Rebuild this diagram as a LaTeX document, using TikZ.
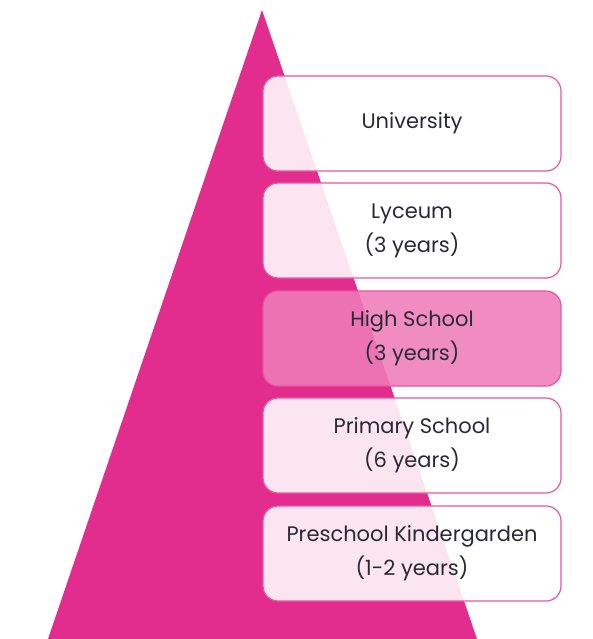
\documentclass[tikz,border=0pt]{standalone}
\usepackage{fontspec}
\setmainfont{Poppins}
\definecolor{pyr}{HTML}{E22D8F}
\definecolor{edge}{HTML}{E8559F}
\definecolor{mark}{HTML}{EE7CB9}
\definecolor{ink}{HTML}{2A2A36}
\tikzset{level/.style={draw=edge, line width=1.2pt, rounded corners=15pt,
  fill=white, fill opacity=0.88, text opacity=1, text=ink,
  minimum width=298pt, minimum height=95pt, align=center,
  font=\fontsize{21}{34}\selectfont}}
\begin{document}
\begin{tikzpicture}[x=1pt,y=-1pt]
\useasboundingbox (0,0) rectangle (592,639);
\fill [pyr] (262,10) -- (477,639) -- (48,639) -- cycle ;
\node [level] (uni) at (412,123.5) {University} ;
\node [level] (lyc) at (412,230.5) {Lyceum\\(3 years)} ;
\node [level, fill=mark] (high) at (412,338.5) {High School\\(3 years)} ;
\node [level] (prim) at (412,445.5) {Primary School\\(6 years)} ;
\node [level] (pre) at (412,553.5) {Preschool Kindergarden\\(1-2 years)} ;
\end{tikzpicture}
\end{document}
